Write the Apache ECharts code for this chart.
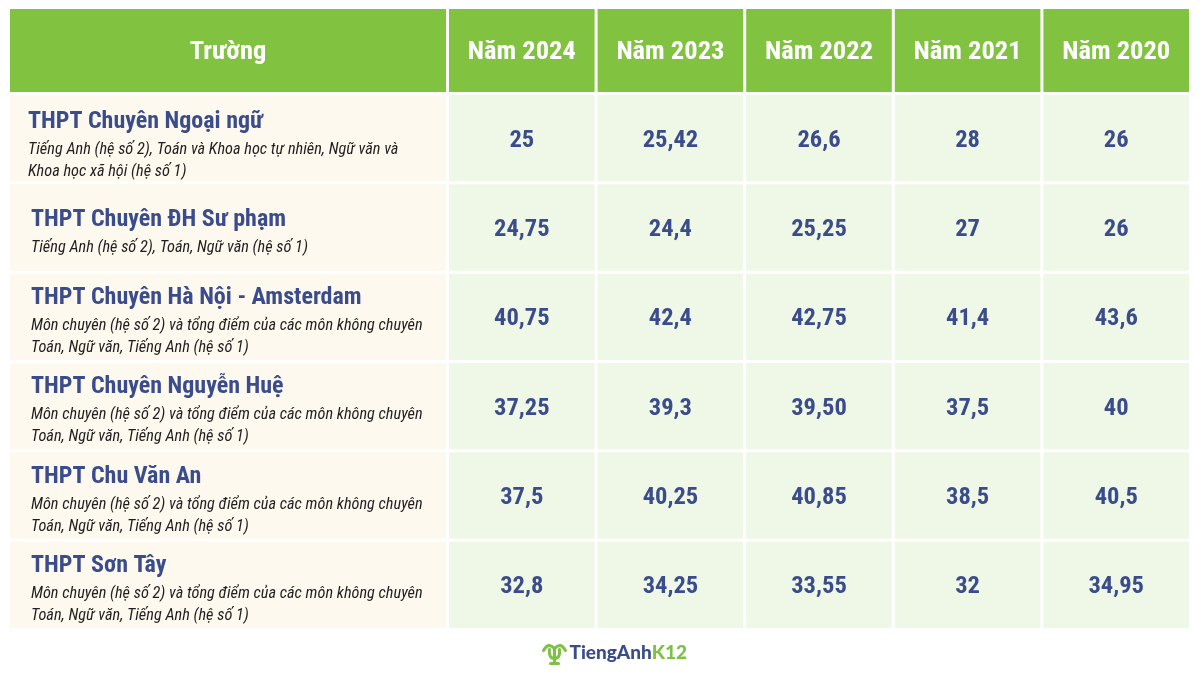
<!DOCTYPE html>
<html>
<head>
<meta charset="utf-8">
<script src="https://cdn.jsdelivr.net/npm/echarts@6/dist/echarts.min.js"></script>
<style>
  html, body { margin: 0; padding: 0; background: #fff; }
  #chart { width: 1200px; height: 675px; }
</style>
</head>
<body>
<div id="chart"></div>
<script>
// tên trường + ghi chú cách tính điểm
var schools = [
    'THPT Chuyên Ngoại ngữ',
    'THPT Chuyên ĐH Sư phạm',
    'THPT Chuyên Hà Nội - Amsterdam',
    'THPT Chuyên Nguyễn Huệ',
    'THPT Chu Văn An',
    'THPT Sơn Tây'
];
var notes = [
    'Tiếng Anh (hệ số 2), Toán và Khoa học tự nhiên, Ngữ văn và\nKhoa học xã hội (hệ số 1)',
    'Tiếng Anh (hệ số 2), Toán, Ngữ văn (hệ số 1)',
    'Môn chuyên (hệ số 2) và tổng điểm của các môn không chuyên\nToán, Ngữ văn, Tiếng Anh (hệ số 1)',
    'Môn chuyên (hệ số 2) và tổng điểm của các môn không chuyên\nToán, Ngữ văn, Tiếng Anh (hệ số 1)',
    'Môn chuyên (hệ số 2) và tổng điểm của các môn không chuyên\nToán, Ngữ văn, Tiếng Anh (hệ số 1)',
    'Môn chuyên (hệ số 2) và tổng điểm của các môn không chuyên\nToán, Ngữ văn, Tiếng Anh (hệ số 1)'
];
var firstHeader = 'Trường';
var years = ['Năm 2024', 'Năm 2023', 'Năm 2022', 'Năm 2021', 'Năm 2020'];
// điểm chuẩn theo năm (giữ nguyên cách ghi)
var score2024 = ['25', '24,75', '40,75', '37,25', '37,5', '32,8'];
var score2023 = ['25,42', '24,4', '42,4', '39,3', '40,25', '34,25'];
var score2022 = ['26,6', '25,25', '42,75', '39,50', '40,85', '33,55'];
var score2021 = ['28', '27', '41,4', '37,5', '38,5', '32'];
var score2020 = ['26', '26', '43,6', '40', '40,5', '34,95'];

var scores = [score2024, score2023, score2022, score2021, score2020];
var FONT = "'Roboto Condensed', 'Liberation Sans Narrow', 'DejaVu Sans Condensed', Roboto, sans-serif";
var NAVY = '#3B4C8C';
var GAP = 1.5;

function cellRect(api) {
    var c = api.coord([api.value(0), api.value(1)]);
    var s = api.size([1, 1]);
    return { c: c, x: c[0] - s[0] / 2 + GAP, y: c[1] - s[1] / 2 + GAP, width: s[0] - GAP * 2, height: s[1] - GAP * 2 };
}

var headerLeftData = [[0, 0, firstHeader]];
var headerRightData = years.map(function (y, i) { return [i, 0, y]; });
var bodyLeftData = schools.map(function (s, i) { return [0, i, s, notes[i]]; });
var bodyRightData = [];
for (var j = 0; j < scores.length; j++) {
    for (var i = 0; i < schools.length; i++) {
        bodyRightData.push([j, i, scores[j][i]]);
    }
}

function makeHeader(list) {
    return function (params, api) {
        var r = cellRect(api);
        return {
            type: 'group',
            children: [
                { type: 'rect', shape: { x: r.x, y: r.y, width: r.width, height: r.height }, style: { fill: '#81C341' } },
                { type: 'text', x: r.c[0], y: r.c[1] + 2, style: { text: list[params.dataIndex][2], fill: '#fff', font: 'bold 26.5px ' + FONT, align: 'center', verticalAlign: 'middle' } }
            ]
        };
    };
}
function valueRender(params, api) {
    var r = cellRect(api);
    return {
        type: 'group',
        children: [
            { type: 'rect', shape: { x: r.x, y: r.y, width: r.width, height: r.height }, style: { fill: '#EFF7E7' } },
            { type: 'text', x: r.c[0], y: r.c[1] + 2.5, style: { text: bodyRightData[params.dataIndex][2], fill: NAVY, font: 'bold 24.5px ' + FONT, align: 'center', verticalAlign: 'middle' } }
        ]
    };
}
function schoolRender(params, api) {
    var r = cellRect(api);
    var row = bodyLeftData[params.dataIndex];
    var txt = '{t|' + row[2] + '}\n' + row[3].split('\n').map(function (l) { return '{s|' + l + '}'; }).join('\n');
    return {
        type: 'group',
        children: [
            { type: 'rect', shape: { x: r.x, y: r.y, width: r.width, height: r.height }, style: { fill: '#FDF9EF' } },
            { type: 'text', x: r.x + (params.dataIndex === 0 ? 18 : 21), y: r.c[1] + (params.dataIndex === 0 ? 6 : 3), style: {
                text: txt, align: 'left', verticalAlign: 'middle',
                rich: {
                    t: { fontFamily: FONT, fontWeight: 'bold', fontSize: 24, fill: NAVY, lineHeight: 34 },
                    s: { fontFamily: FONT, fontStyle: 'italic', fontSize: 16.3, fill: '#1f1f1f', lineHeight: 22 }
                }
            } }
        ]
    };
}

function catAxis(gridIndex, n, inverse) {
    var d = [];
    for (var k = 0; k < n; k++) d.push(k);
    return { type: 'category', gridIndex: gridIndex, data: d, show: false, inverse: !!inverse };
}

var leaf = { stroke: '#7DC242', lineWidth: 3, fill: null, lineCap: 'round' };
var chart = echarts.init(document.getElementById('chart'));
chart.setOption({
    backgroundColor: '#fff',
    animation: false,
    grid: [
        { left: 8.5, top: 7.5, width: 439, height: 86 },
        { left: 447.5, top: 7.5, width: 743, height: 86 },
        { left: 8.5, top: 93.5, width: 439, height: 536 },
        { left: 447.5, top: 93.5, width: 743, height: 536 }
    ],
    xAxis: [catAxis(0, 1), catAxis(1, years.length), catAxis(2, 1), catAxis(3, years.length)],
    yAxis: [catAxis(0, 1), catAxis(1, 1), catAxis(2, schools.length, true), catAxis(3, schools.length, true)],
    series: [
        { type: 'custom', xAxisIndex: 0, yAxisIndex: 0, renderItem: makeHeader(headerLeftData), data: headerLeftData },
        { type: 'custom', xAxisIndex: 1, yAxisIndex: 1, renderItem: makeHeader(headerRightData), data: headerRightData },
        { type: 'custom', xAxisIndex: 2, yAxisIndex: 2, renderItem: schoolRender, data: bodyLeftData },
        { type: 'custom', xAxisIndex: 3, yAxisIndex: 3, renderItem: valueRender, data: bodyRightData }
    ],
    graphic: [
        {   // logo
            type: 'group', left: 541, top: 643,
            children: [
                { type: 'bezierCurve', shape: { x1: 12, y1: 7, cpx1: 6, cpy1: 0, x2: 1, y2: 9 }, style: leaf },
                { type: 'bezierCurve', shape: { x1: 12, y1: 7, cpx1: 18, cpy1: 0, x2: 23, y2: 9 }, style: leaf },
                { type: 'bezierCurve', shape: { x1: 7, y1: 8, cpx1: 6, cpy1: 17, x2: 12, y2: 17 }, style: leaf },
                { type: 'bezierCurve', shape: { x1: 17, y1: 8, cpx1: 18, cpy1: 17, x2: 12, y2: 17 }, style: leaf },
                { type: 'line', shape: { x1: 12, y1: 7, x2: 12, y2: 22 }, style: leaf },
                { type: 'line', shape: { x1: 8, y1: 22, x2: 16, y2: 22 }, style: leaf },
                { type: 'text', x: 27, y: 2, style: { text: '{a|TiengAnh}{b|K12}', rich: {
                    a: { fontFamily: 'Lato', fontWeight: 900, fontSize: 19, fill: '#3B4C8C' },
                    b: { fontFamily: 'Lato', fontWeight: 900, fontSize: 19, fill: '#7DC242' }
                } } }
            ]
        }
    ]
});
</script>
</body>
</html>
